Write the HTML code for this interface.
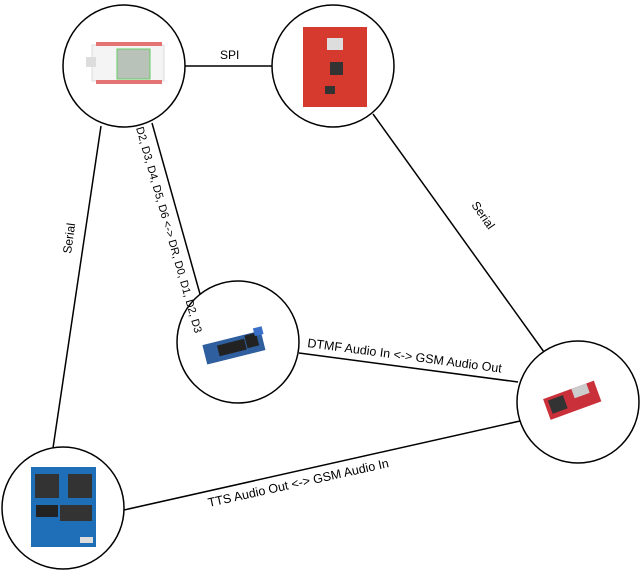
<!DOCTYPE html>
<html><head><style>
body{margin:0;background:#fff;}
svg{display:block;font-family:"Liberation Sans",sans-serif;}
</style></head><body>
<svg width="640" height="574" viewBox="0 0 640 574" xmlns="http://www.w3.org/2000/svg">
<g stroke="#000" stroke-width="1.5" fill="none">
<line x1="184" y1="66" x2="273" y2="66"/>
<line x1="101" y1="126" x2="53" y2="448"/>
<line x1="152" y1="123" x2="200" y2="294"/>
<line x1="373" y1="114" x2="544" y2="352"/>
<line x1="299" y1="353" x2="518" y2="382"/>
<line x1="124" y1="510" x2="520" y2="421"/>
</g>
<g fill="#fff" stroke="#000" stroke-width="1.5">
<circle cx="124" cy="66" r="61"/>
<circle cx="333" cy="66" r="61"/>
<circle cx="238" cy="342" r="61"/>
<circle cx="578" cy="402" r="61"/>
<circle cx="63" cy="508" r="61"/>
</g>
<rect x="92" y="45" width="72" height="36" fill="#f4f4f4" stroke="#ddd"/>
<g fill="#e57373"><rect x="96" y="42" width="66" height="4"/><rect x="96" y="80" width="66" height="4"/></g>
<rect x="117" y="49" width="33" height="30" fill="#b8c2b8" stroke="#6c6"/>
<rect x="86" y="57" width="10" height="10" fill="#ddd"/>
<rect x="303" y="27" width="64" height="80" fill="#d63a2e"/>
<rect x="327" y="38" width="16" height="12" fill="#ddd"/>
<rect x="330" y="62" width="13" height="13" fill="#333"/>
<rect x="325" y="86" width="10" height="8" fill="#333"/>
<g transform="rotate(-14 232 348)">
<rect x="204" y="338" width="60" height="20" fill="#2f5f9e"/>
<rect x="218" y="342" width="28" height="11" fill="#222"/>
<rect x="247" y="339" width="12" height="13" fill="#222"/>
<rect x="257" y="334" width="9" height="8" fill="#3a6fc8"/>
</g>
<g transform="rotate(-20 570 400)">
<rect x="545" y="390" width="54" height="22" fill="#c9303a"/>
<rect x="549" y="393" width="16" height="14" fill="#333"/>
<rect x="575" y="390" width="16" height="10" fill="#ccc"/>
</g>
<rect x="31" y="467" width="65" height="80" fill="#1e6fb8"/>
<rect x="35" y="474" width="24" height="24" fill="#333"/>
<rect x="68" y="474" width="24" height="24" fill="#333"/>
<rect x="36" y="505" width="22" height="12" fill="#222"/>
<rect x="60" y="505" width="32" height="16" fill="#333"/>
<rect x="80" y="537" width="13" height="6" fill="#ddd"/>
<g font-size="12" fill="#000">
<text x="220" y="59">SPI</text>
<text transform="translate(71,254) rotate(-82)">Serial</text>
<text transform="translate(471,205) rotate(55)">Serial</text>
<text transform="translate(136,128) rotate(74)" font-size="11">D2, D3, D4, D5, D6 &lt;-&gt; DR, D0, D1, D2, D3</text>
<text transform="translate(307,347) rotate(7.5)" font-size="12.5">DTMF Audio In &lt;-&gt; GSM Audio Out</text>
<text transform="translate(209,507) rotate(-12.5)" font-size="12.5">TTS Audio Out &lt;-&gt; GSM Audio In</text>
</g>
</svg>
</body></html>
